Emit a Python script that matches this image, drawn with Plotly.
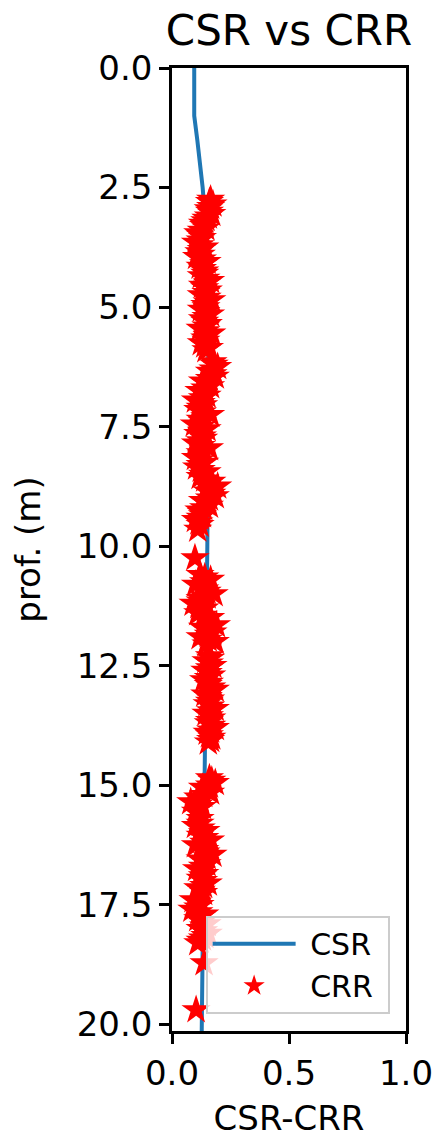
import plotly.graph_objects as go

# CSR profile (depth in m, value)
csr_depth = [0.0, 1.0, 1.5, 2.0, 2.5, 3.0, 4.0, 5.0, 6.0, 8.0, 10.0, 12.0, 14.0, 16.0, 18.0, 20.14]
csr_value = [0.095, 0.095, 0.108, 0.121, 0.131, 0.139, 0.148, 0.153, 0.155, 0.154, 0.151, 0.146, 0.141, 0.134, 0.130, 0.127]

# CRR points read along the blob edges
crr_depth = [
    2.75, 2.85, 2.95, 3.05, 3.15, 3.25, 3.35, 3.45, 3.55, 3.65, 3.75, 3.85, 3.95, 4.05, 4.15, 4.25,
    4.35, 4.45, 4.55, 4.65, 4.75, 4.85, 4.95, 5.05, 5.15, 5.25, 5.35, 5.45, 5.55, 5.65, 5.75, 5.85,
    6.15, 6.25, 6.35, 6.45, 6.55, 6.65, 6.75, 6.85, 6.95, 7.05, 7.15, 7.25, 7.35, 7.45, 7.55, 7.65,
    7.75, 7.85, 7.95, 8.05, 8.15, 8.25, 8.35, 8.45, 8.55, 8.65, 8.75, 8.85, 8.95, 9.05, 9.15, 9.25,
    9.35, 9.45, 9.55, 9.65,
    10.25, 10.6, 10.7, 10.8, 10.9, 11.0, 11.1, 11.2, 11.3, 11.4, 11.5, 11.65, 11.7, 11.8, 11.9, 12.0, 12.05,
    12.3, 12.4, 12.5, 12.6, 12.7, 12.8, 12.9, 13.0, 13.1, 13.2, 13.3, 13.4, 13.5, 13.6, 13.7, 13.8,
    13.9, 14.0, 14.1,
    14.85, 14.95, 15.05, 15.15, 15.25, 15.35, 15.45, 15.55, 15.7, 15.85, 15.95, 16.05, 16.15, 16.25,
    16.35, 16.45, 16.55, 16.65, 16.75, 16.85, 16.95, 17.05, 17.15, 17.25, 17.4, 17.5, 17.6, 17.7,
    17.8, 17.9, 18.0, 18.1, 18.2, 18.3, 18.72, 19.7,
]
crr_value = [
    0.165, 0.175, 0.155, 0.17, 0.145, 0.13, 0.145, 0.11, 0.13, 0.10, 0.14, 0.115, 0.105, 0.15, 0.12, 0.14,
    0.125, 0.165, 0.13, 0.155, 0.125, 0.17, 0.14, 0.125, 0.165, 0.13, 0.155, 0.12, 0.17, 0.14, 0.125, 0.16,
    0.175, 0.195, 0.16, 0.185, 0.13, 0.165, 0.115, 0.15, 0.10, 0.135, 0.11, 0.165, 0.12, 0.095, 0.15, 0.11,
    0.135, 0.10, 0.16, 0.12, 0.10, 0.14, 0.105, 0.15, 0.12, 0.17, 0.195, 0.15, 0.185, 0.13, 0.16, 0.115,
    0.13, 0.10, 0.12, 0.11,
    0.098, 0.12, 0.165, 0.10, 0.14, 0.18, 0.12, 0.09, 0.14, 0.11, 0.165, 0.19, 0.13, 0.175, 0.12, 0.185, 0.145,
    0.16, 0.145, 0.175, 0.14, 0.17, 0.135, 0.155, 0.185, 0.14, 0.165, 0.15, 0.185, 0.145, 0.17, 0.155, 0.185,
    0.15, 0.17, 0.155,
    0.16, 0.185, 0.13, 0.165, 0.11, 0.08, 0.13, 0.10, 0.12, 0.10, 0.145, 0.12, 0.165, 0.10,
    0.14, 0.175, 0.12, 0.15, 0.105, 0.14, 0.12, 0.155, 0.11, 0.135, 0.09, 0.12, 0.085, 0.14,
    0.11, 0.15, 0.12, 0.155, 0.13, 0.11, 0.137, 0.103,
]

# CRR points read along the blob centres
crr_depth_mid = [
    2.8, 2.9, 3.0, 3.1, 3.2, 3.3, 3.4, 3.5, 3.6, 3.7, 3.8, 3.9, 4.0, 4.1, 4.2, 4.3, 4.4, 4.5,
    4.6, 4.7, 4.8, 4.9, 5.0, 5.1, 5.2, 5.3, 5.4, 5.5, 5.6, 5.7, 5.8, 5.9,
    6.2, 6.3, 6.4, 6.5, 6.6, 6.7, 6.8, 6.9, 7.0, 7.1, 7.2, 7.3, 7.4, 7.5, 7.6, 7.7, 7.8, 7.9,
    8.0, 8.1, 8.2, 8.3, 8.4, 8.5, 8.6, 8.7, 8.8, 8.9, 9.0, 9.1, 9.2, 9.3, 9.4, 9.5,
    10.65, 10.75, 10.85, 10.95, 11.05, 11.15, 11.25, 11.35, 11.45, 11.55, 11.75, 11.85, 11.95,
    12.35, 12.45, 12.55, 12.65, 12.75, 12.85, 12.95, 13.05, 13.15, 13.25, 13.35, 13.45, 13.55,
    13.65, 13.75, 13.85, 13.95, 14.05,
    14.9, 15.0, 15.1, 15.2, 15.3, 15.4, 15.5, 15.8, 15.9, 16.0, 16.1, 16.2, 16.3, 16.4, 16.5,
    16.6, 16.7, 16.8, 16.9, 17.0, 17.1, 17.2, 17.45, 17.55, 17.65, 17.75, 17.85, 17.95, 18.05,
    18.15, 18.25,
]
crr_value_mid = [
    0.16, 0.165, 0.16, 0.155, 0.14, 0.135, 0.125, 0.12, 0.12, 0.12, 0.125, 0.125, 0.13, 0.135, 0.13, 0.14, 0.145, 0.15,
    0.14, 0.145, 0.15, 0.15, 0.145, 0.145, 0.145, 0.14, 0.145, 0.145, 0.15, 0.145, 0.14, 0.145,
    0.18, 0.175, 0.175, 0.16, 0.145, 0.14, 0.135, 0.13, 0.125, 0.12, 0.13, 0.14, 0.13, 0.125, 0.125, 0.13, 0.12, 0.125,
    0.135, 0.125, 0.12, 0.12, 0.125, 0.13, 0.14, 0.155, 0.165, 0.17, 0.16, 0.145, 0.135, 0.125, 0.12, 0.115,
    0.14, 0.135, 0.125, 0.15, 0.15, 0.12, 0.115, 0.125, 0.135, 0.14, 0.15, 0.155, 0.155,
    0.165, 0.16, 0.16, 0.155, 0.155, 0.16, 0.17, 0.165, 0.155, 0.16, 0.165, 0.165, 0.16,
    0.16, 0.17, 0.165, 0.16, 0.165,
    0.17, 0.16, 0.15, 0.135, 0.12, 0.115, 0.115, 0.12, 0.125, 0.13, 0.14, 0.135, 0.125, 0.145, 0.15,
    0.14, 0.13, 0.125, 0.13, 0.135, 0.135, 0.125, 0.11, 0.11, 0.115, 0.125, 0.13, 0.135, 0.135,
    0.14, 0.12,
]

x_ticks = [0.0, 0.5, 1.0]
y_ticks = [0.0, 2.5, 5.0, 7.5, 10.0, 12.5, 15.0, 17.5, 20.0]

FONT = "DejaVu Sans"
NB = "\u00a0"

fig = go.Figure()
fig.add_trace(go.Scatter(
    x=csr_value, y=csr_depth, mode="lines", name=NB + "CSR" + NB,
    line=dict(color="#1f77b4", width=4),
))
fig.add_trace(go.Scatter(
    x=crr_value + crr_value_mid, y=crr_depth + crr_depth_mid, mode="markers", name=NB + "CRR" + NB,
    marker=dict(symbol="star", color="#ff0000", size=22, line=dict(width=0)),
))

fig.update_layout(
    width=437, height=1138,
    margin=dict(l=172, r=31, t=68, b=107),
    paper_bgcolor="white", plot_bgcolor="white",
    font=dict(family=FONT, size=34, color="black"),
    title=dict(text="CSR vs CRR", font=dict(size=42, family=FONT, color="black"),
               x=0.5, xref="paper", xanchor="center",
               y=1 - 30 / 1138, yref="container", yanchor="middle"),
    showlegend=True,
    legend=dict(x=0.93, xanchor="right", y=0.018, yanchor="bottom",
                bgcolor="rgba(255,255,255,0.8)", bordercolor="#cccccc", borderwidth=2,
                font=dict(size=30, family=FONT, color="black"), itemwidth=83),
)
fig.update_xaxes(
    range=[0, 1], tickvals=x_ticks, tickformat=".1f",
    showline=True, mirror=True, linecolor="black", linewidth=2.5,
    ticks="outside", ticklen=10, tickwidth=2.5, tickcolor="black",
    showgrid=False, zeroline=False, automargin=False,
    title=dict(text="CSR-CRR", font=dict(size=34, family=FONT), standoff=26),
    tickfont=dict(size=34, family=FONT), ticklabelstandoff=0,
)
fig.update_yaxes(
    range=[20.14, 0], tickvals=y_ticks, tickformat=".1f",
    showline=True, mirror=True, linecolor="black", linewidth=2.5,
    ticks="outside", ticklen=10, tickwidth=2.5, tickcolor="black",
    showgrid=False, zeroline=False, automargin=False,
    title=dict(text="prof. (m)", font=dict(size=34, family=FONT), standoff=26),
    tickfont=dict(size=34, family=FONT), ticklabelstandoff=0,
)

fig.write_html("out.html", config={"displayModeBar": False},
               post_script="document.body.style.margin='0';document.body.style.padding='0';")
